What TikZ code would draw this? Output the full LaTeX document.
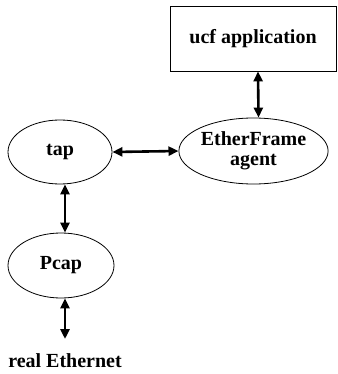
\documentclass[tikz,border=0pt]{standalone}
\usepackage{fontspec}
\setmainfont{Liberation Serif}
\usepackage{tikz}
\usetikzlibrary{shapes.geometric,arrows.meta,positioning,calc}

\begin{document}
\begin{tikzpicture}[x=1pt, y=-1pt,
    font=\fontsize{20}{20}\selectfont\bfseries,
    proc/.style={ellipse, draw, line width=0.8pt, inner sep=0pt},
    box/.style={rectangle, draw, line width=0.8pt, minimum width=166pt, minimum height=65pt},
    link/.style={{Triangle[length=10pt,width=9pt]}-{Triangle[length=10pt,width=9pt]}, line width=2.6pt}]

    \useasboundingbox (0,0) rectangle (337,374);

    % Nodes
    \node[box] (app) at (253,38.5) {ucf application};
    \node[proc, minimum width=137pt, minimum height=66pt, align=center] (agent) at (253.5,151) {EtherFrame\\agent};
    \node[proc, minimum width=104pt, minimum height=64pt] (tap) at (60,152) {tap};
    \node[proc, minimum width=106pt, minimum height=65pt] (pcap) at (61,265.5) {Pcap};
    \node[inner sep=0pt, anchor=base] (eth) at (65,367) {real Ethernet};
    \coordinate (wire) at (65,339);

    % Links
    \draw[link] ([xshift=5pt]app.south) -- ([xshift=5pt]agent.north);
    \draw[link] (tap.east) -- (agent.west);
    \draw[link] ([xshift=5pt]tap.south) -- ([xshift=4pt]pcap.north);
    \draw[link] ([xshift=4pt]pcap.south) -- (wire);

\end{tikzpicture}
\end{document}
